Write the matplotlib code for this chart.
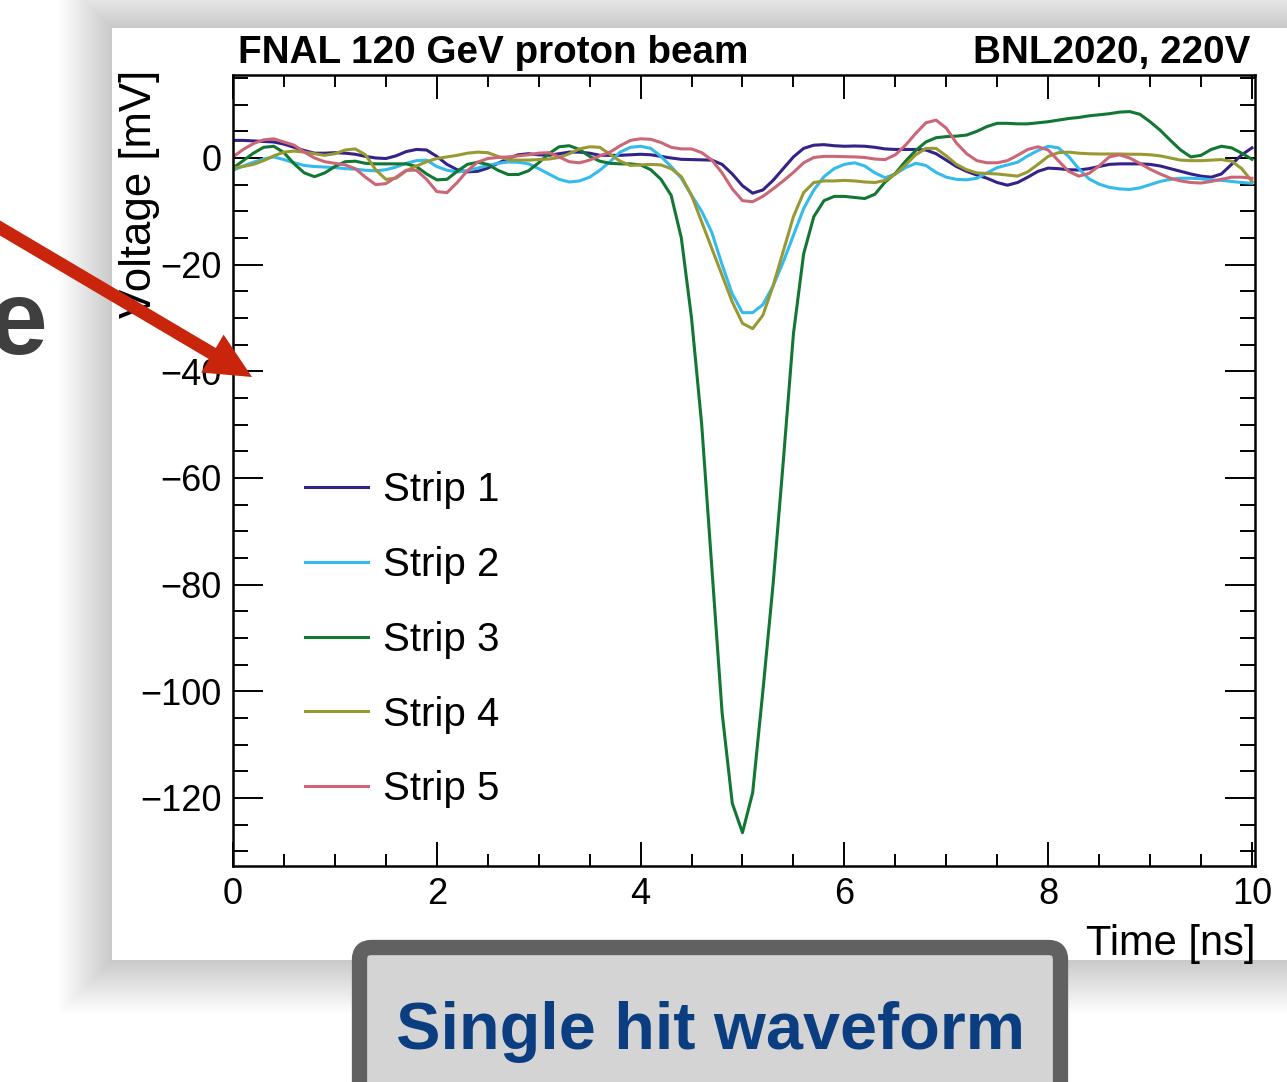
"""
Single hit waveform slide snippet: five strip waveforms (FNAL 120 GeV beam, BNL2020 @ 220V).
"""

import numpy as np
import matplotlib.pyplot as plt
from matplotlib.patches import Rectangle, FancyBboxPatch, FancyArrow
from matplotlib.ticker import MultipleLocator

plt.rcParams["font.family"] = ["Liberation Sans", "DejaVu Sans"]

W, H = 1287, 1082

# time samples [ns], 0.1 ns step
time_ns = np.round(np.arange(0.0, 10.01, 0.1), 1)

strip_1 = [
    3.3, 3.3, 3.2, 3.1, 3.0, 2.6, 2.0, 1.4, 0.9, 0.9,
    1.0, 0.9, 0.7, 0.3, 0.0, -0.1, 0.4, 1.2, 1.6, 1.5,
    0.3, -1.2, -2.2, -2.6, -2.5, -1.9, -1.0, -0.1, 0.6, 0.8,
    0.6, 0.5, 0.8, 1.1, 1.1, 0.9, 0.5, 0.5, 0.5, 0.6,
    0.7, 0.6, 0.3, 0.0, -0.25, -0.3, -0.35, -0.4, -1.2, -3.0,
    -5.2, -6.6, -6.0, -4.2, -2.0, 0.2, 1.8, 2.4, 2.5, 2.3,
    2.2, 2.25, 2.2, 2.0, 1.7, 1.6, 1.6, 1.6, 1.5, 0.8,
    -0.4, -1.6, -2.5, -3.2, -3.8, -4.6, -5.1, -4.6, -3.6, -2.5,
    -1.9, -2.0, -2.2, -2.25, -2.0, -1.6, -1.2, -1.1, -1.1, -1.1,
    -1.2, -1.5, -2.0, -2.5, -3.0, -3.4, -3.6, -3.0, -1.2, 0.6,
    1.9,
]
strip_2 = [
    -2.3, -1.5, -0.8, -0.2, 0.2, -0.3, -0.9, -1.4, -1.6, -1.7,
    -1.8, -2.0, -2.1, -2.3, -2.4, -2.2, -1.7, -1.0, -0.5, -0.4,
    -1.6, -2.3, -2.6, -2.4, -1.9, -1.4, -1.0, -0.75, -0.8, -1.1,
    -2.0, -3.0, -4.0, -4.5, -4.3, -3.6, -2.3, -0.7, 1.1, 2.0,
    2.2, 1.8, 0.3, -1.6, -3.8, -7.0, -10.0, -14.0, -20.0, -25.5,
    -29.0, -29.0, -27.5, -24.0, -19.5, -14.5, -9.5, -6.0, -3.5, -2.0,
    -1.2, -0.9, -1.5, -2.8, -3.7, -3.0, -1.8, -1.0, -1.4, -2.7,
    -3.6, -4.0, -4.1, -3.8, -2.8, -1.8, -1.3, -0.8, 0.4, 1.4,
    2.2, 1.9, 0.3, -2.0, -3.9, -4.9, -5.5, -5.8, -5.9, -5.6,
    -5.0, -4.4, -4.0, -3.8, -3.8, -3.9, -4.1, -4.2, -4.4, -4.6,
    -4.75,
]
strip_3 = [
    -1.9, -0.5, 0.9, 2.0, 2.2, 1.0, -1.1, -2.8, -3.5, -2.8,
    -1.6, -0.7, -0.6, -1.0, -1.1, -1.1, -1.1, -1.1, -1.6, -3.0,
    -4.1, -4.0, -2.5, -1.2, -0.8, -1.2, -2.3, -3.1, -3.1, -2.4,
    -0.9, 0.8, 2.1, 2.3, 1.6, 0.3, -0.6, -1.0, -1.1, -1.1,
    -1.3, -2.2, -4.0, -7.0, -15.0, -30.0, -50.0, -77.0, -104.0, -121.0,
    -126.5, -119.0, -100.0, -80.0, -57.0, -33.0, -18.0, -11.0, -8.0, -7.2,
    -7.2, -7.4, -7.6, -6.8, -4.5, -2.9, -0.6, 1.4, 3.0, 3.8,
    4.0, 4.1, 4.3, 5.0, 5.9, 6.5, 6.5, 6.4, 6.4, 6.6,
    6.8, 7.1, 7.4, 7.6, 7.9, 8.1, 8.3, 8.6, 8.7, 8.2,
    6.8, 5.2, 3.3, 1.5, 0.2, 0.5, 1.6, 2.2, 1.9, 0.9,
    -0.25,
]
strip_4 = [
    -1.9, -1.6, -1.2, -0.5, 0.4, 1.1, 1.3, 1.1, 0.8, 0.5,
    0.8, 1.5, 1.7, 0.6, -2.2, -4.0, -3.8, -2.4, -1.5, -0.7,
    -0.1, 0.2, 0.5, 0.9, 1.1, 1.0, 0.3, -0.3, -0.4, -0.4,
    -0.3, -0.2, 0.1, 0.8, 1.7, 2.1, 2.0, 0.7, -0.6, -1.4,
    -1.3, -1.2, -1.3, -2.0, -3.5, -7.0, -12.0, -17.0, -22.0, -27.0,
    -31.0, -32.0, -29.5, -24.0, -17.5, -11.0, -6.5, -4.6, -4.3, -4.3,
    -4.2, -4.3, -4.5, -4.6, -4.2, -3.0, -1.3, 0.6, 1.8, 1.8,
    0.4, -1.2, -2.2, -2.8, -2.9, -3.0, -3.2, -3.4, -2.6, -1.2,
    0.3, 1.0, 1.1, 0.9, 0.8, 0.75, 0.75, 0.75, 0.7, 0.7,
    0.6, 0.4, 0.0, -0.4, -0.5, -0.5, -0.4, -0.3, -0.6, -2.0,
    -4.4,
]
strip_5 = [
    0.2, 1.6, 2.7, 3.4, 3.6, 3.0, 2.4, 1.1, 0.0, -0.7,
    -1.0, -1.3, -2.0, -3.6, -5.0, -4.8, -3.6, -2.3, -2.3, -4.0,
    -6.3, -6.5, -4.6, -2.4, -0.8, -0.1, 0.1, 0.2, 0.4, 0.6,
    0.9, 1.0, 0.2, -0.7, -0.9, -0.4, 0.4, 1.1, 2.3, 3.3,
    3.6, 3.5, 2.9, 2.0, 1.7, 1.7, 1.0, -0.4, -2.8, -5.8,
    -8.0, -8.2, -7.2, -5.8, -4.3, -2.7, -0.9, 0.1, 0.3, 0.3,
    0.25, 0.2, 0.1, -0.2, -0.3, 0.6, 2.4, 4.6, 6.6, 7.1,
    5.6, 2.8, 0.8, -0.5, -0.9, -0.9, -0.5, 0.5, 1.6, 2.1,
    1.5, -0.5, -2.5, -3.4, -2.9, -1.5, 0.2, 0.6, 0.0, -1.0,
    -2.1, -3.0, -3.8, -4.3, -4.6, -4.7, -4.4, -4.0, -3.6, -3.6,
    -3.8,
]

labels = ["Strip 1", "Strip 2", "Strip 3", "Strip 4", "Strip 5"]
colors = ["#332288", "#33bbee", "#117733", "#999933", "#cc6677"]


def px_axes(fig, z):
    a = fig.add_axes([0, 0, 1, 1], zorder=z)
    a.set_xlim(0, W)
    a.set_ylim(H, 0)
    a.axis("off")
    a.patch.set_visible(False)
    return a


fig = plt.figure(figsize=(W / 100, H / 100), dpi=100, facecolor="white")

# --- slide background: panel with soft shadow, bottom caption box ---
bg = px_axes(fig, 0)
px0, py0, py1 = 112, 28, 960
for d in range(1, 55):
    bg.add_patch(Rectangle((px0 - d, py0 - d), W, (py1 - py0) + 2 * d,
                           facecolor="black", edgecolor="none", alpha=0.0045))
bg.add_patch(Rectangle((px0, py0), W, py1 - py0, facecolor="white", edgecolor="none"))

bg.text(-11, 354, "e", fontsize=76, fontweight="bold", color="#3f3f3f",
        ha="left", va="baseline")

bg.add_patch(FancyBboxPatch((359.5, 947.5), 701, 170,
                            boxstyle="round,pad=0,rounding_size=12",
                            facecolor="#d4d4d4", edgecolor="#616161", lw=11))
bg.text(710, 1049, "Single hit waveform", fontsize=48, fontweight="bold",
        color="#0b3e80", ha="center", va="baseline")

# headers and axis titles
bg.text(238, 63, "FNAL 120 GeV proton beam", fontsize=27.8, fontweight="bold",
        ha="left", va="baseline")
bg.text(1250, 63, "BNL2020, 220V", fontsize=27.8, fontweight="bold",
        ha="right", va="baseline")
bg.text(140, 70, "Voltage [mV]", fontsize=31.5, rotation=90, ha="center", va="top")
bg.text(1255, 955, "Time [ns]", fontsize=30, ha="right", va="baseline")

# --- the waveform plot ---
ax = fig.add_axes([233 / W, 1 - 866 / H, (1255 - 233) / W, (866 - 75) / H], zorder=2)
ax.set_facecolor("none")
series = [strip_1, strip_2, strip_3, strip_4, strip_5]
for vals, lab, col in zip(series, labels, colors):
    ax.plot(time_ns, vals, color=col, lw=2.2, label=lab)

ax.set_xlim(0, 10.03)
ax.set_ylim(-132.75, 15.56)
ax.xaxis.set_major_locator(MultipleLocator(2))
ax.xaxis.set_minor_locator(MultipleLocator(0.5))
ax.yaxis.set_major_locator(MultipleLocator(20))
ax.yaxis.set_minor_locator(MultipleLocator(5))
ax.tick_params(which="both", direction="in", top=True, right=True, width=1.4,
               labelsize=26, pad=8)
ax.tick_params(axis="y", which="major", length=21.6)
ax.tick_params(axis="y", which="minor", length=10.8)
ax.tick_params(axis="x", which="major", length=17.3)
ax.tick_params(axis="x", which="minor", length=8.6)
for sp in ax.spines.values():
    sp.set_linewidth(1.8)

ax.legend(loc="upper left", bbox_to_anchor=(305 / W, 1 - 471 / H),
          bbox_transform=fig.transFigure, frameon=False, fontsize=29,
          handlelength=1.56, handletextpad=0.37, labelspacing=0.915,
          borderpad=0, borderaxespad=0)

# --- red pointer arrow on top ---
fg = px_axes(fig, 5)
x0, y0, x1, y1 = -20, 216.2, 252, 377
fg.add_patch(FancyArrow(x0, y0, x1 - x0, y1 - y0, width=13, head_width=44,
                        head_length=46, length_includes_head=True,
                        color="#c8250c", lw=0))

fig.savefig("out.png", dpi=100, facecolor=fig.get_facecolor())
